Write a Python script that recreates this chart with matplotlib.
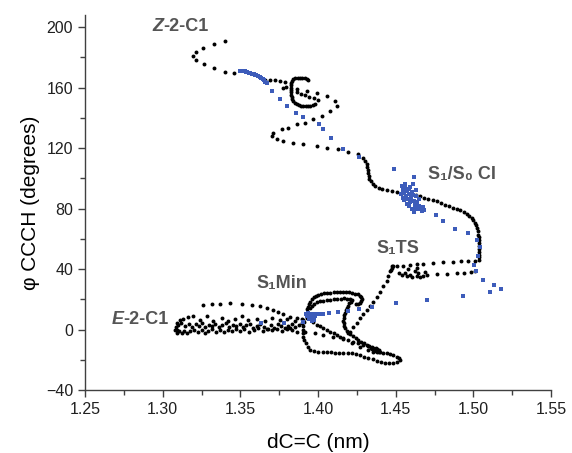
import numpy as np
import matplotlib.pyplot as plt
from matplotlib.ticker import MultipleLocator

# =====================================================
# DATA  (dC=C in nm, phi CCCH in degrees)
# =====================================================

# black trajectory, split into stretches
z_start = [
    (1.3402, 190.7), (1.3331, 188.7), (1.3262, 186.1), (1.3212, 183.6),
    (1.3197, 180.9), (1.3212, 178.0), (1.3264, 175.8), (1.3331, 173.1),
    (1.3402, 170.6), (1.3457, 169.9),
]

curl = [
    (1.3659, 165.1), (1.3691, 164.9), (1.3723, 164.7), (1.3756, 164.4),
    (1.3788, 164.0), (1.3777, 160.0), (1.3795, 160.6),
    (1.3935, 165.2), (1.3930, 166.0), (1.3915, 166.4), (1.3900, 166.5),
    (1.3885, 166.5), (1.3870, 166.4), (1.3855, 166.1), (1.3842, 165.4),
    (1.3834, 164.3), (1.3829, 162.9), (1.3826, 161.4), (1.3825, 159.9),
    (1.3825, 158.4), (1.3826, 156.9), (1.3828, 155.4), (1.3831, 153.9),
    (1.3835, 152.4), (1.3841, 151.0), (1.3850, 149.9), (1.3862, 149.0),
    (1.3876, 148.4), (1.3890, 148.0), (1.3905, 147.8), (1.3920, 147.7),
    (1.3935, 147.8), (1.3950, 148.0), (1.3965, 148.4), (1.3978, 149.0),
    (1.3865, 157.0), (1.3890, 155.8), (1.3915, 155.0), (1.3945, 154.0),
    (1.3975, 152.8), (1.4000, 151.5),
]

big_loop = [
    (1.3863, 158.9), (1.3928, 157.8), (1.3992, 156.7), (1.4056, 154.4),
    (1.4110, 151.1), (1.4121, 147.8), (1.4078, 144.5), (1.4024, 141.2),
    (1.3970, 139.0), (1.3917, 136.8), (1.3863, 135.7), (1.3809, 133.5),
    (1.3767, 132.4), (1.3712, 130.2), (1.3702, 127.9), (1.3734, 125.7),
    (1.3777, 124.6), (1.3841, 123.5), (1.3906, 122.4), (1.3992, 121.3),
    (1.4056, 120.2), (1.4131, 119.1), (1.4195, 117.3), (1.4260, 115.8),
    (1.4292, 113.6), (1.4305, 111.5), (1.4314, 109.5), (1.4318, 107.5),
    (1.4321, 105.5), (1.4324, 103.6), (1.4327, 101.6), (1.4331, 99.8),
    (1.4340, 98.0), (1.4352, 96.4), (1.4370, 95.0), (1.4390, 93.9),
    (1.4410, 93.0), (1.4443, 92.1), (1.4475, 91.3), (1.4507, 90.8),
    (1.4540, 90.4),
]

ci_to_right = [
    (1.4630, 89.0), (1.4657, 88.1), (1.4684, 87.2), (1.4711, 86.4),
    (1.4738, 85.6), (1.4765, 84.8), (1.4792, 83.7), (1.4818, 82.6),
    (1.4845, 81.5), (1.4872, 80.4), (1.4895, 79.6), (1.4915, 78.9),
    (1.4938, 77.8), (1.4958, 76.7), (1.4975, 75.3), (1.4990, 73.8),
    (1.5001, 72.2), (1.5011, 70.5), (1.5019, 68.8), (1.5026, 67.2),
    (1.5030, 65.0), (1.5033, 62.7), (1.5035, 61.0), (1.5037, 59.4),
    (1.5038, 57.2), (1.5039, 55.0), (1.5039, 53.0), (1.5039, 51.0),
    (1.5039, 49.5), (1.5039, 47.8), (1.5039, 46.2),
]

ts_upper = [
    (1.5010, 45.4), (1.4966, 45.2), (1.4922, 45.0), (1.4872, 44.8),
    (1.4807, 44.4), (1.4743, 44.0), (1.4678, 43.5), (1.4635, 43.0),
    (1.4593, 42.6), (1.4550, 42.2), (1.4507, 41.7), (1.4475, 41.7),
]

ts_lower = [
    (1.5011, 38.4), (1.4985, 37.8), (1.4940, 37.5), (1.4893, 37.3),
    (1.4829, 36.9), (1.4765, 36.7), (1.4700, 36.2), (1.4635, 35.5),
    (1.4571, 35.1),
]

ts_cluster = [
    (1.4561, 37.3), (1.4593, 36.2), (1.4625, 38.4), (1.4646, 37.3),
    (1.4657, 35.0), (1.4678, 35.5), (1.4582, 40.0), (1.4635, 40.6),
    (1.4540, 36.0), (1.4520, 37.5), (1.4605, 34.5), (1.4690, 38.0),
]

ts_descent = [
    (1.4486, 41.9), (1.4475, 41.0), (1.4468, 39.5), (1.4464, 38.4),
    (1.4453, 35.1), (1.4442, 31.8), (1.4421, 28.5), (1.4400, 25.1),
    (1.4378, 21.8), (1.4357, 18.5), (1.4335, 15.7), (1.4314, 13.0),
    (1.4292, 10.4), (1.4271, 7.5), (1.4249, 4.6), (1.4228, 1.5),
    (1.4206, -1.4),
]

min_outer_arc = [
    (1.3930, 13.5), (1.3935, 15.2), (1.3942, 16.9), (1.3950, 18.5),
    (1.3960, 20.0), (1.3972, 21.3), (1.3987, 22.3), (1.4003, 23.0),
    (1.4020, 23.5), (1.4040, 23.9), (1.4060, 24.2), (1.4080, 24.4),
    (1.4100, 24.5), (1.4120, 24.6), (1.4140, 24.7), (1.4160, 24.7),
    (1.4180, 24.6), (1.4200, 24.5), (1.4220, 24.2), (1.4240, 23.8),
    (1.4256, 23.2), (1.4268, 22.3), (1.4277, 21.2), (1.4281, 20.0),
    (1.4279, 18.8), (1.4272, 17.7), (1.4260, 17.0), (1.4245, 16.6),
]

min_inner_arc = [
    (1.3950, 14.5), (1.3962, 15.8), (1.3976, 17.0), (1.3992, 17.9),
    (1.4013, 18.6), (1.4035, 19.1), (1.4057, 19.4), (1.4078, 19.6),
    (1.4100, 19.9), (1.4122, 20.2), (1.4145, 20.5), (1.4165, 20.6),
    (1.4185, 20.4), (1.4205, 19.9), (1.4217, 19.2),
]

s_curve = [
    (1.4210, 18.3), (1.4200, 17.2), (1.4192, 15.8), (1.4185, 14.3),
    (1.4178, 12.7), (1.4172, 11.0), (1.4168, 9.3), (1.4165, 7.5),
    (1.4164, 5.8), (1.4166, 4.1), (1.4170, 2.4), (1.4176, 0.8),
    (1.4185, -0.7), (1.4195, -2.0), (1.4208, -3.3), (1.4224, -4.6),
    (1.4242, -5.8), (1.4260, -6.9), (1.4278, -8.0), (1.4296, -9.1),
    (1.4314, -10.0), (1.4331, -10.9), (1.4345, -11.6), (1.4357, -12.2),
    (1.4367, -12.8), (1.4378, -13.4), (1.4389, -14.0), (1.4400, -14.6),
    (1.4350, -13.0), (1.4362, -14.0), (1.4372, -12.0), (1.4383, -13.0),
    (1.4395, -13.5), (1.4340, -12.5), (1.4378, -14.8), (1.4392, -15.2),
]

diagonals = [
    (1.3970, 5.0), (1.3992, 3.0), (1.4014, 2.0), (1.4035, 0.9),
    (1.4057, -0.3), (1.4078, -1.4), (1.4100, -2.5), (1.4121, -3.6),
    (1.4142, -4.7), (1.4163, -5.8), (1.4196, -6.9), (1.4228, -8.0),
    (1.4260, -9.1), (1.4292, -10.2), (1.4320, -11.2),
    (1.3820, 0.9), (1.3917, -1.4), (1.3981, -2.5), (1.4035, -3.6),
    (1.4099, -4.7), (1.4163, -6.5), (1.4217, -8.7), (1.4271, -11.3),
    (1.4325, -13.5), (1.4357, -14.6),
]

bottom_loop = [
    (1.3927, 7.5), (1.3913, 4.8), (1.3906, 2.4), (1.3903, 0.0),
    (1.3902, -2.4), (1.3905, -4.7), (1.3911, -6.9), (1.3920, -9.1),
    (1.3935, -11.5), (1.3949, -13.5), (1.3975, -14.2), (1.4002, -14.6),
    (1.4029, -14.8), (1.4056, -15.0), (1.4083, -15.2), (1.4110, -15.3),
    (1.4137, -15.3), (1.4163, -15.3), (1.4190, -15.5), (1.4217, -15.7),
    (1.4244, -16.2), (1.4271, -16.8), (1.4298, -17.9), (1.4325, -19.0),
    (1.4352, -19.8), (1.4378, -20.6), (1.4405, -21.3), (1.4432, -21.9),
    (1.4459, -22.1), (1.4485, -21.9), (1.4510, -21.2), (1.4528, -20.2),
    (1.4520, -18.9), (1.4507, -18.0), (1.4485, -17.0), (1.4464, -16.4),
    (1.4442, -15.8), (1.4421, -15.3),
]

e_arc = [
    (1.3262, 16.3), (1.3316, 16.8), (1.3369, 17.0), (1.3434, 17.2),
    (1.3509, 16.8), (1.3573, 16.3), (1.3627, 15.7), (1.3670, 14.5),
    (1.3713, 13.0), (1.3745, 11.5), (1.3777, 10.1), (1.3820, 8.6),
    (1.3863, 7.5), (1.3906, 6.4),
]

e_band = [
    (1.3133, 7.0), (1.3160, 8.5), (1.3197, 9.0), (1.3241, 6.5),
    (1.3284, 9.2), (1.3326, 5.8), (1.3380, 7.6), (1.3423, 5.5),
    (1.3466, 7.2), (1.3509, 8.9), (1.3552, 6.3), (1.3605, 7.1),
    (1.3659, 5.4), (1.3702, 7.8), (1.3756, 6.6), (1.3798, 7.1),
    (1.3852, 5.5), (1.3895, 6.9),
    (1.3100, 3.0), (1.3120, 4.2), (1.3145, 2.6), (1.3170, 3.8),
    (1.3190, 1.8), (1.3212, 3.5), (1.3235, 2.2), (1.3255, 4.0),
    (1.3275, 1.5), (1.3298, 3.2), (1.3318, 2.0), (1.3340, 3.9),
    (1.3362, 1.7), (1.3385, 2.9), (1.3405, 4.3), (1.3428, 1.6),
    (1.3450, 3.0), (1.3472, 2.1), (1.3495, 3.8), (1.3515, 1.4),
    (1.3538, 2.7), (1.3560, 3.6), (1.3582, 1.2), (1.3605, 2.5),
    (1.3628, 3.9), (1.3650, 1.8), (1.3672, 0.6), (1.3695, 2.8),
    (1.3718, 1.3), (1.3740, 3.4), (1.3762, 2.0), (1.3785, 0.9),
    (1.3808, 2.6), (1.3830, 3.8), (1.3852, 1.5), (1.3875, 2.9),
    (1.3898, 4.2),
    (1.3080, -0.5), (1.3092, -2.0), (1.3108, -1.2), (1.3125, -2.6),
    (1.3140, -0.8), (1.3158, -2.2), (1.3178, -1.0), (1.3200, -0.2),
    (1.3225, -1.8), (1.3250, -0.4), (1.3272, -2.3), (1.3295, -0.9),
    (1.3320, 0.2), (1.3345, -1.5), (1.3370, -0.3), (1.3395, -1.9),
    (1.3420, 0.0), (1.3445, -1.1), (1.3470, 0.4), (1.3498, -0.7),
    (1.3525, 0.1), (1.3555, -1.4), (1.3585, -0.2), (1.3615, 0.8),
    (1.3645, -0.9), (1.3675, 0.3), (1.3705, -0.6), (1.3738, 0.5),
    (1.3770, -0.8), (1.3800, 0.2), (1.3835, -0.5), (1.3865, -1.6),
    (1.3085, 1.5), (1.3095, 4.5), (1.3110, 6.0), (1.3090, 0.0),
]

# blue points
blue_upper = [
    (1.3498, 171.2), (1.3506, 171.0), (1.3517, 170.8), (1.3527, 170.7),
    (1.3537, 170.5), (1.3546, 170.1), (1.3556, 169.8), (1.3565, 169.5),
    (1.3575, 169.2), (1.3585, 168.8), (1.3595, 168.5), (1.3604, 168.0),
    (1.3614, 167.5), (1.3624, 166.9), (1.3633, 166.2), (1.3643, 165.5),
    (1.3653, 164.9), (1.3662, 163.9), (1.3672, 162.9),
    (1.3704, 157.6), (1.3756, 152.3), (1.3801, 147.6), (1.3859, 143.4),
    (1.3906, 140.5), (1.4009, 135.7), (1.4035, 132.8), (1.4082, 126.9),
    (1.4163, 119.6), (1.4266, 114.3), (1.4490, 106.3), (1.4619, 101.0),
]

blue_ci = [
    (1.4540, 95.0), (1.4548, 92.5), (1.4555, 90.0), (1.4560, 93.5),
    (1.4566, 88.0), (1.4572, 91.5), (1.4578, 86.0), (1.4583, 89.5),
    (1.4590, 94.0), (1.4595, 84.5), (1.4600, 87.5), (1.4605, 91.0),
    (1.4612, 96.5), (1.4618, 85.0), (1.4622, 82.5), (1.4628, 88.5),
    (1.4633, 80.5), (1.4640, 84.0), (1.4645, 79.5), (1.4652, 82.0),
    (1.4660, 80.0), (1.4668, 78.5), (1.4676, 81.0), (1.4685, 79.0),
    (1.4545, 87.0), (1.4552, 85.5), (1.4575, 83.0), (1.4588, 81.5),
    (1.4602, 79.5), (1.4615, 77.8), (1.4630, 92.5), (1.4610, 89.0),
    (1.4585, 92.8), (1.4562, 96.0), (1.4650, 86.0), (1.4535, 89.5),
    (1.4595, 86.0), (1.4625, 84.5),
]

blue_scatter = [
    (1.4760, 76.0), (1.4807, 71.6), (1.4882, 66.5), (1.4968, 63.9),
    (1.5026, 59.4), (1.5043, 54.6), (1.5033, 48.4), (1.5005, 42.4),
    (1.5018, 38.4), (1.5065, 32.9), (1.5130, 29.6), (1.5179, 26.9),
    (1.5108, 24.5), (1.4936, 22.3), (1.4704, 19.6), (1.4503, 17.2),
]

blue_min = [
    (1.3920, 10.2), (1.3930, 9.0), (1.3940, 10.5), (1.3950, 8.0),
    (1.3955, 9.8), (1.3965, 7.5), (1.3970, 10.0), (1.3980, 8.8),
    (1.3945, 6.8), (1.3990, 10.3), (1.3935, 11.0), (1.3960, 5.8),
    (1.3975, 6.5), (1.4010, 10.5),
    (1.4035, 10.4), (1.4073, 10.8), (1.4131, 11.7), (1.4195, 12.5),
    (1.4266, 13.5), (1.4346, 15.2), (1.3906, 5.2), (1.3633, 4.6),
    (1.3783, 4.6),
]

labels = [
    ("S\u2081/S\u2080 CI", 1.4709, 102.5),
    ("S\u2081TS", 1.4378, 53.4),
    ("S\u2081Min", 1.3605, 30.2),
]

# =====================================================
# PLOT
# =====================================================

LABEL_GRAY = "#555555"
BLUE = "#3d5cba"
FONT = ["Liberation Sans", "DejaVu Sans"]

plt.rcParams.update({
    "font.family": FONT,
    "axes.edgecolor": "#404040",
    "xtick.color": "#404040",
    "ytick.color": "#404040",
    "xtick.labelcolor": "#202020",
    "ytick.labelcolor": "#202020",
})

fig = plt.figure(figsize=(5.72, 4.53), dpi=100)
ax = fig.add_axes([0.1486, 0.1391, 0.8147, 0.8278])

black = np.array(z_start + curl + big_loop + ci_to_right + ts_upper + ts_lower
                 + ts_cluster + ts_descent + min_outer_arc + min_inner_arc
                 + s_curve + diagonals + bottom_loop + e_arc + e_band)
blue = np.array(blue_upper + blue_ci + blue_scatter + blue_min)

ax.scatter(black[:, 0], black[:, 1], s=8, color="black", linewidths=0, zorder=2)
ax.scatter(blue[:, 0], blue[:, 1], s=12, color=BLUE, marker="s", linewidths=0, zorder=3)

ax.set_xlim(1.25, 1.55)
ax.set_ylim(-40, 208)
ax.xaxis.set_major_locator(MultipleLocator(0.05))
ax.xaxis.set_minor_locator(MultipleLocator(0.025))
ax.yaxis.set_major_locator(MultipleLocator(40))
ax.yaxis.set_minor_locator(MultipleLocator(20))
ax.xaxis.set_major_formatter(lambda v, p: f"{v:.2f}")
ax.set_yticks([-40, 0, 40, 80, 120, 160, 200])

for side in ["top", "right"]:
    ax.spines[side].set_visible(False)
for side in ["left", "bottom"]:
    ax.spines[side].set_linewidth(1.0)

ax.tick_params(which="major", direction="out", length=5, width=1, labelsize=11.5)
ax.tick_params(which="minor", direction="out", length=3.5, width=1)

ax.set_xlabel("dC=C (nm)", fontsize=15, labelpad=12)
ax.set_ylabel("\u03c6 CCCH (degrees)", fontsize=15, labelpad=4)

# state labels
for txt, lx, ly in labels:
    ax.text(lx, ly, txt, fontsize=13, fontweight="bold", color=LABEL_GRAY,
            va="center", ha="left")

for letter, rest, lx, ly in [("Z", "-2-C1", 1.2931, 200.6), ("E", "-2-C1", 1.2672, 6.4)]:
    t = ax.text(lx, ly, letter, fontsize=13, fontweight="bold", style="italic",
                color=LABEL_GRAY, va="center", ha="left")
    ax.annotate(rest, xy=(1, 0.5), xycoords=t, fontsize=13, fontweight="bold",
                color=LABEL_GRAY, va="center", ha="left")

fig.savefig("out.png", dpi=100)
